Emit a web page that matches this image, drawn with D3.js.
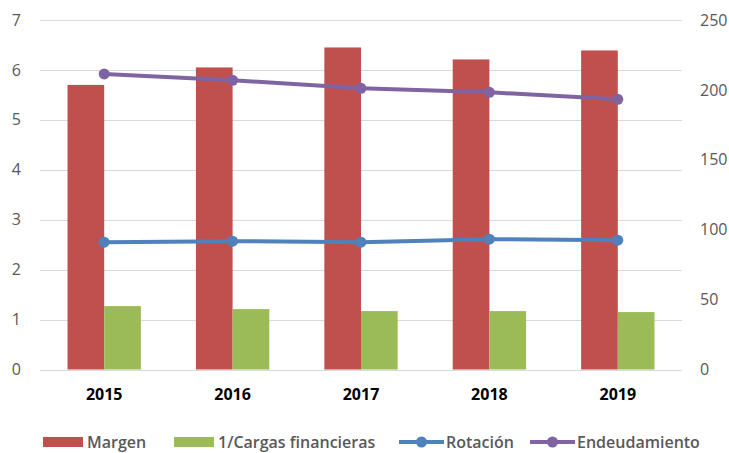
<!DOCTYPE html>
<html>
<head>
<meta charset="utf-8">
<script src="https://d3js.org/d3.v7.min.js"></script>
<style>
  body { margin: 0; background: #fff; }
  svg { display: block; font-family: "Open Sans", sans-serif; }
</style>
</head>
<body>
<div id="chart"></div>
<script>
// Data
const years = ["2015", "2016", "2017", "2018", "2019"];
const margen = [5.70, 6.05, 6.45, 6.21, 6.39];
const cargas = [1.27, 1.21, 1.17, 1.17, 1.15];
const rotacion = [2.55, 2.57, 2.55, 2.61, 2.59];
const endeudamiento = [211.4, 206.9, 201.1, 198.3, 193.3];
const leftTicks = [0, 1, 2, 3, 4, 5, 6, 7];
const rightTicks = [0, 50, 100, 150, 200, 250];

const width = 729, height = 453;
const plot = { left: 40, right: 682, top: 20, bottom: 369.5 };

const red = "#C0504D", green = "#9BBB59", blue = "#4F81BD", purple = "#8064A2";

const svg = d3.select("#chart").append("svg")
    .attr("width", width)
    .attr("height", height);

const x = d3.scaleBand().domain(years).range([plot.left, plot.right]);
const y = d3.scaleLinear().domain([0, 7]).range([plot.bottom, plot.top]);
const y2 = d3.scaleLinear().domain([0, 250]).range([plot.bottom, plot.top]);

// gridlines
svg.append("g").selectAll("line")
    .data(leftTicks)
    .join("line")
    .attr("x1", plot.left).attr("x2", plot.right)
    .attr("y1", d => Math.round(y(d)) + 0.5).attr("y2", d => Math.round(y(d)) + 0.5)
    .attr("stroke", "#d9d9d9").attr("stroke-width", 1);

// left axis
const leftAxis = svg.append("g")
    .attr("transform", `translate(${plot.left - 19},0)`)
    .call(d3.axisLeft(y).tickValues(leftTicks).tickFormat(d3.format("d")).tickSize(0).tickPadding(0));
// right axis
const rightAxis = svg.append("g")
    .attr("transform", `translate(${plot.right + 18},0)`)
    .call(d3.axisRight(y2).tickValues(rightTicks).tickFormat(d3.format("d")).tickSize(0).tickPadding(0));
[leftAxis, rightAxis].forEach(a => {
    a.select(".domain").remove();
    a.selectAll("text")
        .attr("fill", "#595959")
        .style("font-size", "16px")
        .style("font-family", "'Open Sans', sans-serif");
});

// category axis
const xAxis = svg.append("g")
    .attr("transform", `translate(0,${plot.bottom})`)
    .call(d3.axisBottom(x).tickSize(0).tickPadding(0));
xAxis.select(".domain").remove();
xAxis.selectAll("text")
    .attr("y", 25)
    .attr("dy", "0.35em")
    .attr("fill", "#000")
    .style("font-size", "16px")
    .style("font-weight", "bold")
    .style("font-family", "'Open Sans', sans-serif");

// bars
const barW = x.bandwidth() / 3.5;
const inner = d3.scaleBand().domain(["m", "c"]).range([0, barW * 2]);
const off = (x.bandwidth() - barW * 2) / 2;

svg.append("g").selectAll("rect")
    .data(years.map((yr, i) => ({ yr, v: margen[i] })))
    .join("rect")
    .attr("x", d => x(d.yr) + off + inner("m"))
    .attr("y", d => y(d.v))
    .attr("width", inner.bandwidth())
    .attr("height", d => y(0) - y(d.v))
    .attr("fill", red);

svg.append("g").selectAll("rect")
    .data(years.map((yr, i) => ({ yr, v: cargas[i] })))
    .join("rect")
    .attr("x", d => x(d.yr) + off + inner("c"))
    .attr("y", d => y(d.v))
    .attr("width", inner.bandwidth())
    .attr("height", d => y(0) - y(d.v))
    .attr("fill", green);

// lines
function drawLine(values, scale, color) {
    const pts = years.map((yr, i) => [x(yr) + x.bandwidth() / 2, scale(values[i])]);
    svg.append("path")
        .attr("d", d3.line()(pts))
        .attr("fill", "none")
        .attr("stroke", color)
        .attr("stroke-width", 4)
        .attr("stroke-linejoin", "round");
    svg.append("g").selectAll("circle")
        .data(pts)
        .join("circle")
        .attr("cx", d => d[0]).attr("cy", d => d[1])
        .attr("r", 5.5)
        .attr("fill", color);
}
drawLine(rotacion, y, blue);
drawLine(endeudamiento, y2, purple);

// legend
const legendY = 442;
const legend = [
    { name: "Margen", type: "bar", color: red, x: 43 },
    { name: "1/Cargas financieras", type: "bar", color: green, x: 174 },
    { name: "Rotación", type: "line", color: blue, x: 399 },
    { name: "Endeudamiento", type: "line", color: purple, x: 530 }
];
const lg = svg.append("g");
legend.forEach(d => {
    const g = lg.append("g").attr("transform", `translate(${d.x},${legendY})`);
    if (d.type === "bar") {
        g.append("rect").attr("x", 0).attr("y", -5).attr("width", 40).attr("height", 10).attr("fill", d.color);
        g.append("text").attr("x", 44).attr("dy", "0.35em").text(d.name);
    } else {
        g.append("line").attr("x1", 0).attr("x2", 45).attr("stroke", d.color).attr("stroke-width", 4);
        g.append("circle").attr("cx", 22.5).attr("r", 5.5).attr("fill", d.color);
        g.append("text").attr("x", 47).attr("dy", "0.35em").text(d.name);
    }
});
lg.selectAll("text")
    .attr("fill", "#595959")
    .style("font-size", "16px")
    .style("font-weight", "600");
</script>
</body>
</html>
